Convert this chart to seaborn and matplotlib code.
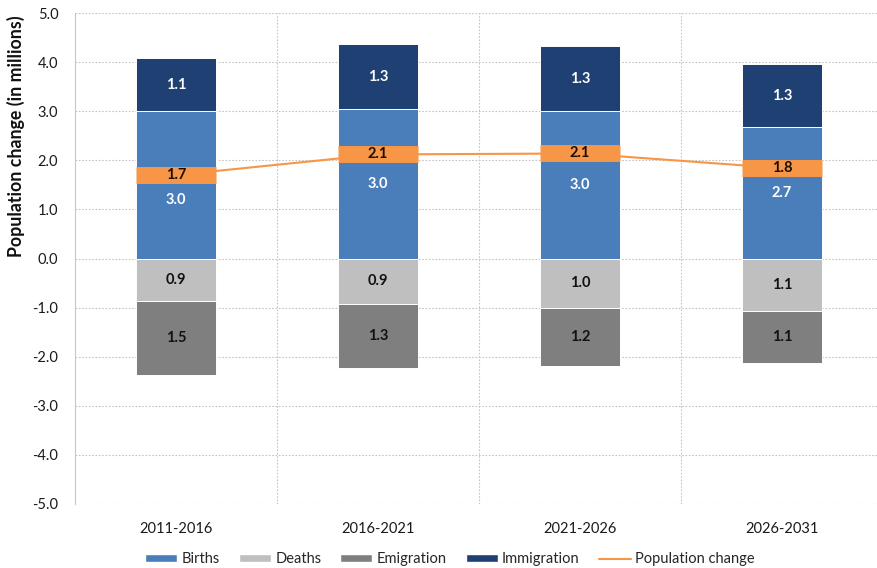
import numpy as np
import matplotlib
matplotlib.use("Agg")
import matplotlib.pyplot as plt
from matplotlib.patches import Patch
from matplotlib.lines import Line2D
from matplotlib.ticker import FixedLocator, FuncFormatter
import seaborn as sns

# Components of population change per five-year period (millions)
periods = ["2011-2016", "2016-2021", "2021-2026", "2026-2031"]
births = [3.00, 3.04, 3.00, 2.68]
immigration = [1.08, 1.32, 1.32, 1.28]
deaths = [0.86, 0.92, 1.00, 1.06]
emigration = [1.52, 1.32, 1.18, 1.06]
population_change = [1.70, 2.12, 2.14, 1.84]
y_ticks = [-5, -4, -3, -2, -1, 0, 1, 2, 3, 4, 5]

C_BIRTHS = "#4a7ebb"
C_DEATHS = "#bfbfbf"
C_EMIG = "#7f7f7f"
C_IMMIG = "#1f4072"
C_POP = "#f79646"

sns.set_theme(style="white")
plt.rcParams["font.family"] = ["Lato", "DejaVu Sans"]
plt.rcParams["axes.unicode_minus"] = False

fig = plt.figure(figsize=(8.77, 5.68), dpi=100)
ax = fig.add_axes([0.0855, 0.1127, 0.9145, 0.8643])

births_a = np.array(births)
imm_a = np.array(immigration)
deaths_a = np.array(deaths)
emig_a = np.array(emigration)
pop_a = np.array(population_change)

bar_kw = dict(width=0.4, saturation=1, edgecolor="white", linewidth=0.7, ax=ax)
# stacked layers: draw the cumulative totals first, then the inner segment over them
sns.barplot(x=periods, y=births_a + imm_a, color=C_IMMIG, **bar_kw)
sns.barplot(x=periods, y=births_a, color=C_BIRTHS, **bar_kw)
sns.barplot(x=periods, y=-(deaths_a + emig_a), color=C_EMIG, **bar_kw)
sns.barplot(x=periods, y=-deaths_a, color=C_DEATHS, **bar_kw)

pos = np.arange(len(periods))
# net change: thin connecting line plus a band across each bar
sns.lineplot(x=pos, y=pop_a, color=C_POP, linewidth=1.5, ax=ax, zorder=4)
ax.plot(pos, pop_a, linestyle="none", marker="_", markersize=57.6,
        markeredgewidth=12.2, markeredgecolor=C_POP, zorder=5)

lab = dict(ha="center", va="center", fontsize=10.5, fontweight="bold", zorder=6)
for i in range(len(periods)):
    ax.text(i, births_a[i] + imm_a[i] / 2, f"{imm_a[i]:.1f}", color="white", **lab)
    by = min(births_a[i] / 2, pop_a[i] - 0.5)
    ax.text(i, by, f"{births_a[i]:.1f}", color="white", **lab)
    ax.text(i, -deaths_a[i] / 2, f"{deaths_a[i]:.1f}", color="#111111", **lab)
    ax.text(i, -deaths_a[i] - emig_a[i] / 2, f"{emig_a[i]:.1f}", color="#111111", **lab)
    ax.text(i, pop_a[i], f"{pop_a[i]:.1f}", color="#1a0f05", **lab)

ax.set_ylim(-5, 5)
ax.set_xlim(-0.5, 3.47)
ax.yaxis.set_major_locator(FixedLocator(y_ticks))
ax.yaxis.set_major_formatter(FuncFormatter(lambda v, p: f"{v:.1f}"))
ax.xaxis.set_minor_locator(FixedLocator([0.5, 1.5, 2.5, 3.5]))
ax.tick_params(axis="both", which="both", length=0, labelsize=10.5, colors="#1a1a1a")
ax.tick_params(axis="x", pad=13)
ax.tick_params(axis="y", pad=12)

ax.set_axisbelow(True)
ax.grid(axis="y", which="major", linestyle=(0, (1.5, 1.5)), color="#c4c4c4", linewidth=0.8)
ax.grid(axis="x", which="minor", linestyle=(0, (1.5, 1.5)), color="#c4c4c4", linewidth=0.8)
ax.grid(axis="x", which="major", visible=False)
for s in ["top", "right", "bottom"]:
    ax.spines[s].set_visible(False)
ax.spines["left"].set_color("#c8c8c8")
ax.spines["left"].set_linewidth(0.8)

ax.set_xlabel("")
ax.set_ylabel("Population change (in millions)", fontsize=12.8, fontweight="bold", color="#111111")
ax.yaxis.set_label_coords(-0.062, 0.75)

handles = [
    Patch(facecolor=C_BIRTHS, label="Births"),
    Patch(facecolor=C_DEATHS, label="Deaths"),
    Patch(facecolor=C_EMIG, label="Emigration"),
    Patch(facecolor=C_IMMIG, label="Immigration"),
    Line2D([0], [0], color=C_POP, linewidth=1.5, label="Population change"),
]
fig.legend(handles=handles, loc="lower center", bbox_to_anchor=(0.513, -0.02), ncol=5,
           frameon=False, fontsize=10.5, handlelength=2.2, handleheight=0.45,
           columnspacing=1.3, handletextpad=0.3)

fig.savefig("out.png", dpi=100)
